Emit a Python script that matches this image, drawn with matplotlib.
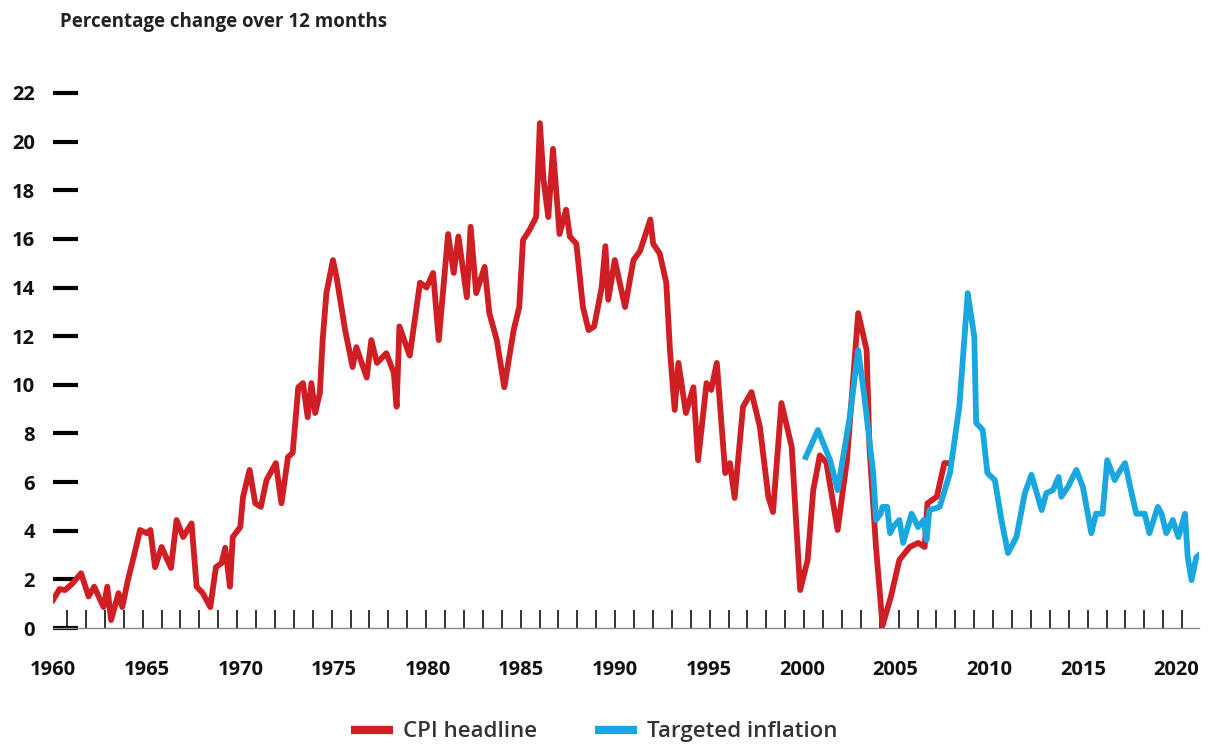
import numpy as np
import matplotlib
matplotlib.use("Agg")
import matplotlib.pyplot as plt
from matplotlib.ticker import FixedLocator

# CPI headline (year, % change over 12 months)
cpi_years = [1960.0, 1960.35, 1960.64, 1961.0, 1961.5, 1961.9, 1962.2, 1962.7, 1962.9, 1963.1,
             1963.5, 1963.7, 1964.0, 1964.3, 1964.65, 1965.0, 1965.2, 1965.45, 1965.8, 1966.3,
             1966.6, 1966.95, 1967.4, 1967.67, 1968.0, 1968.4, 1968.7, 1969.0, 1969.2, 1969.45,
             1969.6, 1970.0, 1970.15, 1970.5, 1970.8, 1971.1, 1971.4, 1971.9, 1972.2, 1972.55,
             1972.8, 1973.1, 1973.35, 1973.6, 1973.8, 1974.0, 1974.25, 1974.4, 1974.6, 1974.95,
             1975.15, 1975.6, 1976.0, 1976.2, 1976.75, 1977.0, 1977.3, 1977.8, 1978.2, 1978.35,
             1978.5, 1979.05, 1979.6, 1979.95, 1980.3, 1980.6, 1981.1, 1981.4, 1981.65, 1982.1,
             1982.3, 1982.6, 1983.05, 1983.3, 1983.7, 1984.1, 1984.6, 1984.9, 1985.1, 1985.45,
             1985.8, 1986.0, 1986.2, 1986.45, 1986.7, 1987.05, 1987.4, 1987.6, 1987.95, 1988.3,
             1988.6, 1988.9, 1989.3, 1989.5, 1989.65, 1990.0, 1990.55, 1991.0, 1991.35, 1991.9,
             1992.05, 1992.4, 1992.75, 1992.95, 1993.2, 1993.4, 1993.8, 1994.2, 1994.45, 1994.9,
             1995.15, 1995.45, 1995.9, 1996.15, 1996.4, 1996.85, 1997.3, 1997.75, 1998.2, 1998.45,
             1998.9, 1999.45, 1999.9, 2000.3, 2000.6, 2000.95, 2001.3, 2001.9, 2002.4, 2003.0,
             2003.45, 2003.6, 2003.95, 2004.3, 2004.75, 2005.2, 2005.75, 2006.2, 2006.55, 2006.7,
             2007.2, 2007.6, 2007.9]
cpi_vals = [1.15, 1.6, 1.56, 1.8, 2.25, 1.3, 1.7, 0.86, 1.7, 0.33,
            1.43, 0.86, 1.97, 2.9, 4.03, 3.9, 4.03, 2.5, 3.33, 2.47,
            4.44, 3.74, 4.3, 1.7, 1.43, 0.86, 2.5, 2.67, 3.3, 1.7,
            3.74, 4.15, 5.4, 6.5, 5.13, 4.98, 6.08, 6.78, 5.13, 7.03,
            7.2, 9.9, 10.07, 8.67, 10.07, 8.84, 9.66, 11.84, 13.77, 15.13,
            14.4, 12.25, 10.73, 11.55, 10.3, 11.84, 10.9, 11.3, 10.5, 9.1,
            12.4, 11.2, 14.2, 14.0, 14.6, 11.84, 16.2, 14.6, 16.1, 13.6,
            16.5, 13.77, 14.85, 12.95, 11.84, 9.9, 12.25, 13.2, 15.95, 16.37,
            16.9, 20.76, 18.4, 16.9, 19.7, 16.2, 17.2, 16.1, 15.8, 13.2,
            12.25, 12.4, 14.0, 15.7, 13.5, 15.13, 13.2, 15.13, 15.5, 16.8,
            15.8, 15.4, 14.2, 11.4, 8.97, 10.9, 8.84, 9.9, 6.9, 10.07,
            9.79, 10.9, 6.37, 6.78, 5.35, 9.1, 9.7, 8.27, 5.4, 4.77,
            9.25, 7.44, 1.56, 2.8, 5.67, 7.1, 6.8, 4.03, 6.9, 12.95,
            11.43, 7.44, 3.33, 0.1, 1.3, 2.8, 3.33, 3.5, 3.33, 5.13,
            5.4, 6.78, 6.78]

# Targeted inflation (CPIX, then CPI)
tgt_years = [2000.2, 2000.85, 2001.5, 2001.9, 2002.55, 2003.0, 2003.35, 2003.8, 2003.95, 2004.2,
             2004.3, 2004.55, 2004.7, 2004.9, 2005.2, 2005.4, 2005.85, 2006.2, 2006.5, 2006.65,
             2006.8, 2007.35, 2007.9, 2008.4, 2008.85, 2009.2, 2009.3, 2009.65, 2009.9, 2010.3,
             2010.65, 2011.0, 2011.45, 2011.9, 2012.25, 2012.8, 2013.05, 2013.4, 2013.7, 2013.85,
             2014.2, 2014.65, 2015.0, 2015.45, 2015.7, 2016.05, 2016.3, 2016.7, 2016.9, 2017.25,
             2017.6, 2017.85, 2018.3, 2018.55, 2019.0, 2019.2, 2019.45, 2019.8, 2020.1, 2020.45,
             2020.6, 2020.8, 2021.05, 2021.2]
tgt_vals = [7.03, 8.14, 6.9, 5.67, 8.67, 11.43, 9.38, 6.37, 4.44, 4.7,
            4.98, 4.98, 3.9, 4.2, 4.44, 3.5, 4.7, 4.15, 4.44, 3.62,
            4.85, 4.98, 6.37, 9.1, 13.77, 11.97, 8.43, 8.14, 6.37, 6.08,
            4.44, 3.08, 3.74, 5.55, 6.3, 4.85, 5.55, 5.67, 6.21, 5.4,
            5.8, 6.5, 5.8, 3.9, 4.7, 4.7, 6.9, 6.08, 6.37, 6.78,
            5.55, 4.7, 4.7, 3.9, 4.98, 4.7, 3.9, 4.44, 3.74, 4.7,
            2.9, 1.97, 2.9, 3.0]

x_ticks = list(range(1960, 2021, 5))
y_ticks = list(range(0, 23, 2))

RED = "#cf1f25"
BLUE = "#1aa7e0"

plt.rcParams["font.family"] = ["Open Sans", "DejaVu Sans"]

fig = plt.figure(figsize=(12.08, 7.46), dpi=100)
ax = fig.add_axes([53 / 1208, 1 - 628 / 746, (1199 - 53) / 1208, (628 - 93) / 746])

ax.plot(cpi_years, cpi_vals, color=RED, lw=4.2, solid_joinstyle="round", label="CPI headline", zorder=3)
ax.plot(tgt_years, tgt_vals, color=BLUE, lw=4.2, solid_joinstyle="round", label="Targeted inflation", zorder=4)

ax.set_xlim(1960, 2021.2)
ax.set_ylim(0, 22)

ax.set_xticks(x_ticks)
ax.set_yticks(y_ticks)
ax.xaxis.set_minor_locator(FixedLocator(np.linspace(1960.75, 2020.3, 60)))

for s in ["top", "right", "left"]:
    ax.spines[s].set_visible(False)
ax.spines["bottom"].set_color("#8a8a8a")
ax.spines["bottom"].set_linewidth(1.0)

ax.tick_params(axis="y", which="major", direction="in", length=18, width=3,
               color="black", pad=13, labelsize=14.5, labelcolor="#111111")
ax.tick_params(axis="x", which="major", length=0, pad=23, labelsize=14.5, labelcolor="#111111")
ax.tick_params(axis="x", which="minor", direction="in", length=13, width=1.4, color="#333333")
for lab in ax.get_xticklabels() + ax.get_yticklabels():
    lab.set_fontweight("bold")

fig.text(60 / 1208, 1 - 22 / 746, "Percentage change over 12 months",
         fontsize=13.5, fontweight="bold", color="#222222", va="center", ha="left")

leg = fig.legend(loc="center", bbox_to_anchor=(0.492, 0.019), ncol=2, frameon=False,
                 fontsize=16, handlelength=1.9, handletextpad=0.45, columnspacing=2.6,
                 borderpad=0)
for t in leg.get_texts():
    t.set_color("#333333")
    t.set_fontweight("semibold")
for h in leg.legend_handles:
    h.set_linewidth(6)
    h.set_solid_capstyle("butt")

fig.savefig("out.png", dpi=100)
